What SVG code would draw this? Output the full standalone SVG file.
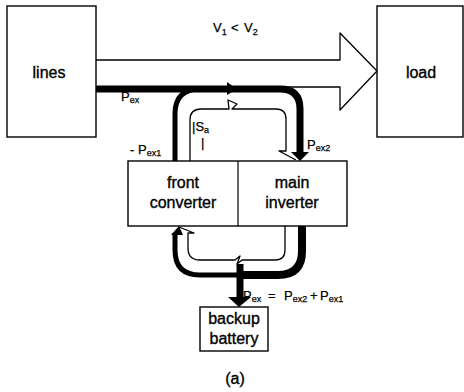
<svg xmlns="http://www.w3.org/2000/svg" width="464" height="392" viewBox="0 0 464 392">
  <style>
    .box { fill: #fff; stroke: #000; stroke-width: 1.4; }
    .lbl { font-family: "Liberation Sans", Arial, sans-serif; font-size: 16px; fill: #000; stroke: #000; stroke-width: 0.35; text-anchor: middle; }
    .sym { font-family: "Liberation Sans", Arial, sans-serif; font-size: 13px; fill: #000; stroke: #000; stroke-width: 0.25; }
    .sub { font-size: 9px; }
    .thin { fill: none; stroke: #000; stroke-width: 1.3; stroke-linejoin: round; }
    .thick { fill: none; stroke: #000; stroke-linecap: butt; stroke-linejoin: round; }
  </style>

  <rect width="464" height="392" fill="#fff"/>

  <!-- wide power arrow from lines to load -->
  <g id="main-flow">
    <path class="thin" d="M96,60 H340 V33 L377,71 L340,110 V87 H96"/>
  </g>

  <g id="lines">
    <rect class="box" x="7" y="6" width="89" height="131"/>
    <text class="lbl" x="49" y="78">lines</text>
  </g>

  <g id="load">
    <rect class="box" x="377" y="6" width="86" height="131"/>
    <text class="lbl" x="421" y="78">load</text>
  </g>

  <g id="converters">
    <rect class="box" x="128" y="161" width="219" height="65"/>
    <line x1="238" y1="161" x2="238" y2="226" stroke="#000" stroke-width="1.2"/>
    <text class="lbl" x="183" y="188">front</text>
    <text class="lbl" x="183" y="208">converter</text>
    <text class="lbl" x="292" y="188">main</text>
    <text class="lbl" x="292" y="208">inverter</text>
  </g>

  <g id="battery">
    <rect class="box" x="200" y="307" width="68" height="44"/>
    <text class="lbl" x="234" y="324">backup</text>
    <text class="lbl" x="234" y="344">battery</text>
  </g>

  <g id="connectors">
    <!-- upper loop: outer (bold) edge -->
    <path class="thick" stroke-width="7" d="M96,89 H280 Q300,89 300,109 V153"/>
    <path class="thick" stroke-width="5" d="M175,161 V114 Q175,89 200,89"/>
    <polygon points="291,152 309,152 300,161" fill="#000"/>
    <polygon points="227,82 237,89 227,95" fill="#000"/>
    <!-- upper loop: inner edge -->
    <path class="thin" d="M190,161 V120 Q190,109 201,109 H229 L228,100 L237,104 L232,109 H276 Q286,109 286,119 V151 L279,151 L296,160"/>

    <!-- lower loop: outer (bold) edge -->
    <path class="thick" stroke-width="5" d="M175,233 V250 Q175,275 200,275 H240"/>
    <path class="thick" stroke-width="8" d="M238,275 H278 Q302,275 302,251 V226"/>
    <polygon points="171,235 179,226 183,235" fill="#000"/>
    <!-- lower loop: inner edge -->
    <path class="thin" d="M179,227 L194,233 L188,233 V248 Q188,260 200,260 H235 L240,256 L237,264 L242,260 H275 Q285,260 285,250 V226"/>
    <!-- branch to battery -->
    <path class="thick" stroke-width="7" d="M240,264 V298"/>
    <polygon points="228,297 251,297 239,307" fill="#000"/>
  </g>

  <g id="labels">
    <text class="sym" x="213" y="32" font-size="14">V<tspan class="sub" dy="3">1</tspan><tspan x="231" dy="-3">&lt;</tspan><tspan x="244">V</tspan><tspan class="sub" dy="3">2</tspan></text>
    <text class="sym" x="121" y="101">P<tspan class="sub" dy="2">ex</tspan></text>
    <text class="sym" x="192" y="131">|S<tspan class="sub" dy="2">a</tspan></text>
    <text class="sym" x="201" y="147">|</text>
    <text class="sym" x="130" y="154">- P<tspan class="sub" dy="2">ex1</tspan></text>
    <text class="sym" x="307" y="149">P<tspan class="sub" dy="2">ex2</tspan></text>
    <text class="sym" x="243" y="300">P<tspan class="sub" dy="2">ex</tspan><tspan x="268" dy="-2">=</tspan><tspan x="284">P</tspan><tspan class="sub" dy="2">ex2</tspan><tspan x="310" dy="-2">+</tspan><tspan x="320">P</tspan><tspan class="sub" dy="2">ex1</tspan></text>
    <text class="lbl" x="235" y="384" font-size="15" stroke-width="0">(a)</text>
  </g>
</svg>
